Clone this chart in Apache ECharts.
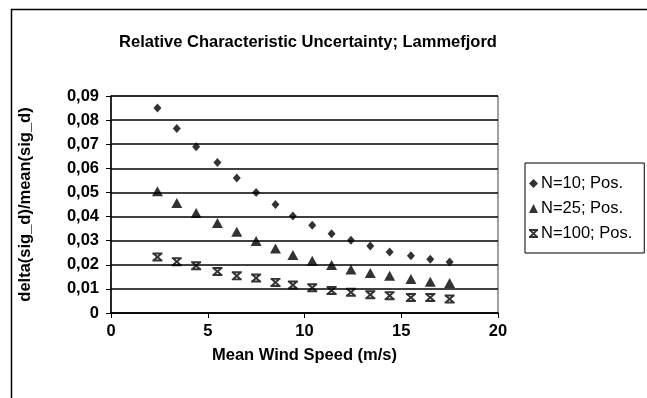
<!DOCTYPE html>
<html>
<head>
<meta charset="utf-8">
<script src="https://cdn.jsdelivr.net/npm/echarts@6/dist/echarts.min.js"></script>
<style>
html,body{margin:0;padding:0;background:#fff;}
#chart{width:647px;height:398px;}
</style>
</head>
<body>
<div id="chart"></div>
<script>
const windSpeed = [2.4, 3.4, 4.4, 5.5, 6.5, 7.5, 8.5, 9.4, 10.4, 11.4, 12.4, 13.4, 14.4, 15.5, 16.5, 17.5];
const n10 = [0.085, 0.0765, 0.069, 0.0624, 0.056, 0.050, 0.045, 0.0402, 0.0364, 0.0329, 0.0302, 0.0278, 0.0253, 0.0237, 0.0223, 0.0212];
const n25 = [0.0505, 0.0456, 0.0415, 0.0373, 0.0337, 0.0299, 0.0268, 0.0241, 0.0217, 0.0199, 0.018, 0.0166, 0.0154, 0.0141, 0.013, 0.0124];
const n100 = [0.0232, 0.0213, 0.0196, 0.0172, 0.0154, 0.0145, 0.0127, 0.0116, 0.0105, 0.0093, 0.0086, 0.0076, 0.0072, 0.0064, 0.0064, 0.0058];
const seriesNames = ['N=10; Pos.', 'N=25; Pos.', 'N=100; Pos.'];
const titleText = 'Relative Characteristic Uncertainty; Lammefjord';
const xName = 'Mean Wind Speed (m/s)';
const yName = 'delta(sig_d)/mean(sig_d)';

const FONT = '"Liberation Sans", Arial, sans-serif';
const xSymbol = 'path://M0,0 L10,0 L10,2.2 L0,2.2 Z M0,7.8 L10,7.8 L10,10 L0,10 Z M0.6,2.2 L3.6,2.2 L9.4,7.8 L6.4,7.8 Z M6.4,2.2 L9.4,2.2 L3.6,7.8 L0.6,7.8 Z';

const pairs = arr => arr.map((v, i) => [windSpeed[i], v]);

const chart = echarts.init(document.getElementById('chart'), null, {renderer: 'canvas'});
chart.setOption({
  backgroundColor: '#fff',
  animation: false,
  textStyle: {fontFamily: FONT, color: '#000'},
  title: {
    text: titleText,
    left: 303, top: 29, textAlign: 'center',
    textStyle: {fontFamily: FONT, fontSize: 16.5, fontWeight: 'bold', color: '#000'}
  },
  graphic: [{
    type: 'rect', silent: true,
    shape: {x: 11.5, y: 9.5, width: 700, height: 500},
    style: {fill: 'none', stroke: '#000', lineWidth: 1.5}
  }],
  legend: {
    orient: 'vertical', left: 525, top: 163,
    padding: [12, 12, 11, 4], itemGap: 8,
    itemWidth: 9, itemHeight: 9,
    borderColor: '#000', borderWidth: 1,
    textStyle: {fontFamily: FONT, fontSize: 16.5, color: '#000', padding: [0, 0, 0, -2]},
    data: seriesNames
  },
  grid: {left: 111, right: 149, top: 96, bottom: 85, containLabel: false, outerBoundsMode: 'none',
         show: true, borderColor: '#444', borderWidth: 1, backgroundColor: 'transparent'},
  xAxis: {
    type: 'value', min: 0, max: 20, interval: 5,
    name: xName, nameLocation: 'middle', nameGap: 34,
    nameTextStyle: {fontFamily: FONT, fontSize: 16.5, fontWeight: 'bold', color: '#000'},
    axisLine: {show: true, lineStyle: {color: '#000', width: 1.5}},
    axisTick: {show: true, inside: false, length: 5, lineStyle: {color: '#000'}},
    axisLabel: {fontFamily: FONT, fontSize: 16.5, fontWeight: 'bold', color: '#000', margin: 10},
    splitLine: {show: false}
  },
  yAxis: {
    type: 'value', min: 0, max: 0.09, interval: 0.01,
    name: yName, nameLocation: 'middle', nameGap: 77, nameRotate: 90,
    nameTextStyle: {fontFamily: FONT, fontSize: 16.5, fontWeight: 'bold', color: '#000'},
    axisLine: {show: true, lineStyle: {color: '#000', width: 1.5}},
    axisTick: {show: true, inside: false, length: 5, lineStyle: {color: '#000'}},
    axisLabel: {fontFamily: FONT, fontSize: 16.5, fontWeight: 'bold', color: '#000', margin: 12,
      formatter: v => v === 0 ? '0' : v.toFixed(2).replace('.', ',')},
    splitLine: {show: true, lineStyle: {color: '#000', width: 1.6}}
  },
  series: [
    {name: seriesNames[0], type: 'scatter', symbol: 'diamond', symbolSize: [8, 9],
     itemStyle: {color: '#000'}, data: pairs(n10)},
    {name: seriesNames[1], type: 'scatter', symbol: 'triangle', symbolSize: [11, 10],
     itemStyle: {color: '#000'}, data: pairs(n25)},
    {name: seriesNames[2], type: 'scatter', symbol: xSymbol, symbolSize: [10, 9],
     itemStyle: {color: '#000'}, data: pairs(n100)}
  ]
});
</script>
</body>
</html>
